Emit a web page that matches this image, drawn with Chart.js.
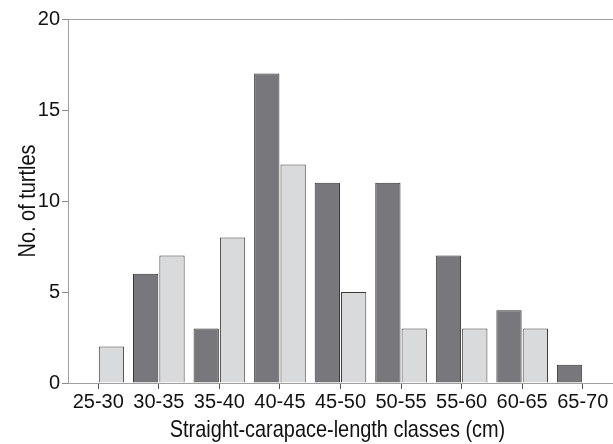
<!DOCTYPE html>
<html>
<head>
<meta charset="utf-8">
<script src="https://cdn.jsdelivr.net/npm/chart.js@4/dist/chart.umd.min.js"></script>
<style>
  html, body { margin: 0; padding: 0; background: #fff; }
  #wrap { width: 613px; height: 444px; }
</style>
</head>
<body>
<div id="wrap"><canvas id="turtleChart" width="613" height="444"></canvas></div>
<script>
const classes = ['25-30', '30-35', '35-40', '40-45', '45-50', '50-55', '55-60', '60-65', '65-70'];
const darkCounts = [0, 6, 3, 17, 11, 11, 7, 4, 1];
const lightCounts = [2, 7, 8, 12, 5, 3, 3, 3, 0];
const yTicks = [0, 5, 10, 15, 20];
const xTitle = 'Straight-carapace-length classes (cm)';
const yTitle = 'No. of turtles';

const tickFont = { family: "'Liberation Sans', Arial, sans-serif", size: 20 };

// top frame line + narrow axis titles (no narrow font installed, so squeeze Arial)
const frameAndTitles = {
    id: 'frameAndTitles',
    afterDraw(chart) {
        const a = chart.chartArea;
        const ctx = chart.ctx;
        ctx.save();
        ctx.strokeStyle = '#a0a0a0';
        ctx.lineWidth = 1;
        ctx.beginPath();
        ctx.moveTo(a.left, a.top + 0.5);
        ctx.lineTo(a.right, a.top + 0.5);
        ctx.stroke();

        ctx.fillStyle = '#111';
        ctx.font = "24px 'Liberation Sans', Arial, sans-serif";
        ctx.textAlign = 'center';
        ctx.textBaseline = 'alphabetic';

        ctx.save();
        ctx.translate((a.left + a.right) / 2 - 3, 437);
        ctx.scale(0.83, 1);
        ctx.fillText(xTitle, 0, 0);
        ctx.restore();

        ctx.save();
        ctx.translate(35, 201);
        ctx.rotate(-Math.PI / 2);
        ctx.scale(0.83, 1);
        ctx.fillText(yTitle, 0, 0);
        ctx.restore();

        ctx.restore();
    }
};

const chart = new Chart(document.getElementById('turtleChart'), {
    type: 'bar',
    data: {
        labels: classes,
        datasets: [{
            data: darkCounts,
            backgroundColor: '#78787c',
            borderColor: '#333333',
            borderWidth: 1,
            borderSkipped: 'bottom'
        }, {
            data: lightCounts,
            backgroundColor: '#d9dadc',
            borderColor: '#3a3a3a',
            borderWidth: 1,
            borderSkipped: 'bottom'
        }]
    },
    options: {
        responsive: false,
        animation: false,
        layout: { padding: { left: 0, right: 0, top: 19, bottom: 0 } },
        datasets: { bar: { categoryPercentage: 0.87, barPercentage: 0.96 } },
        plugins: {
            legend: { display: false },
            tooltip: { enabled: false }
        },
        scales: {
            x: {
                grid: { display: true, drawOnChartArea: false, offset: false, tickLength: 6, color: '#555' },
                border: { display: true, color: '#a0a0a0' },
                ticks: { color: '#111', font: tickFont, padding: 1, maxRotation: 0, autoSkip: false },
                afterFit(scale) { scale.height = 61; }
            },
            y: {
                min: 0,
                max: 20,
                afterBuildTicks(scale) { scale.ticks = yTicks.map(v => ({ value: v })); },
                grid: { display: true, drawOnChartArea: false, tickLength: 6, color: '#888' },
                border: { display: true, color: '#a0a0a0' },
                ticks: { color: '#111', font: tickFont, padding: 2 },
                afterFit(scale) { scale.width = 68; }
            }
        }
    },
    plugins: [frameAndTitles]
});
</script>
</body>
</html>
